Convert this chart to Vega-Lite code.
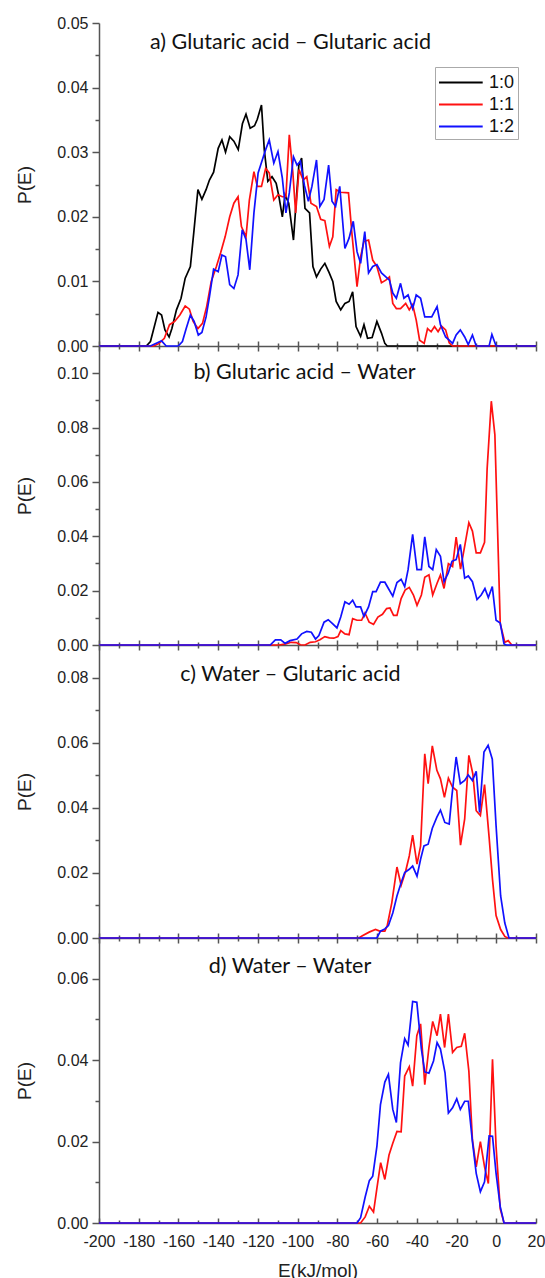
{
  "$schema": "https://vega.github.io/schema/vega-lite/v6.json",
  "background": "white",
  "padding": {"left": 15, "top": 15, "right": 0, "bottom": 0},
  "bounds": "flush",
  "spacing": 0,
  "config": {
    "view": {"stroke": null},
    "font": "Liberation Sans",
    "axis": {"labelFont": "Liberation Sans", "labelFontSize": 16, "labelColor": "#222", "titleFont": "Liberation Sans", "titleFontWeight": "normal", "titleColor": "#222", "domainColor": "#555", "domainWidth": 1.5, "tickColor": "#555", "tickWidth": 1.5, "grid": false, "labelFlush": false, "labelOverlap": false},
    "title": {"font": "Lato", "fontSize": 21.5, "fontWeight": "normal", "color": "#111", "anchor": "middle", "frame": "group", "baseline": "alphabetic"}
  },
  "resolve": {"scale": {"color": "independent"}},
  "datasets": {
    "pe": [
      {"p":"a","r":"1:0","E":-200,"P":0},{"p":"a","r":"1:0","E":-176.2,"P":0},{"p":"a","r":"1:0","E":-174.1,"P":0.0007},{"p":"a","r":"1:0","E":-170.3,"P":0.0052},{"p":"a","r":"1:0","E":-168.5,"P":0.0048},{"p":"a","r":"1:0","E":-166.8,"P":0.0025},{"p":"a","r":"1:0","E":-164.7,"P":0.0014},{"p":"a","r":"1:0","E":-163.3,"P":0.0027},{"p":"a","r":"1:0","E":-161.0,"P":0.0056},{"p":"a","r":"1:0","E":-158.7,"P":0.0074},{"p":"a","r":"1:0","E":-156.6,"P":0.0105},{"p":"a","r":"1:0","E":-154.0,"P":0.0123},{"p":"a","r":"1:0","E":-152.3,"P":0.0175},{"p":"a","r":"1:0","E":-150.2,"P":0.0242},{"p":"a","r":"1:0","E":-148.2,"P":0.0227},{"p":"a","r":"1:0","E":-146.1,"P":0.0242},{"p":"a","r":"1:0","E":-144.4,"P":0.0257},{"p":"a","r":"1:0","E":-142.3,"P":0.0269},{"p":"a","r":"1:0","E":-140.0,"P":0.0306},{"p":"a","r":"1:0","E":-138.1,"P":0.0319},{"p":"a","r":"1:0","E":-136.3,"P":0.0300},{"p":"a","r":"1:0","E":-134.2,"P":0.0324},{"p":"a","r":"1:0","E":-132.1,"P":0.0317},{"p":"a","r":"1:0","E":-129.9,"P":0.0304},{"p":"a","r":"1:0","E":-127.8,"P":0.0344},{"p":"a","r":"1:0","E":-126.0,"P":0.0359},{"p":"a","r":"1:0","E":-123.9,"P":0.0337},{"p":"a","r":"1:0","E":-121.7,"P":0.0341},{"p":"a","r":"1:0","E":-120.3,"P":0.0351},{"p":"a","r":"1:0","E":-118.2,"P":0.0373},{"p":"a","r":"1:0","E":-116.8,"P":0.0304},{"p":"a","r":"1:0","E":-115.0,"P":0.0255},{"p":"a","r":"1:0","E":-112.9,"P":0.0262},{"p":"a","r":"1:0","E":-110.8,"P":0.0252},{"p":"a","r":"1:0","E":-109.4,"P":0.0231},{"p":"a","r":"1:0","E":-107.7,"P":0.0200},{"p":"a","r":"1:0","E":-106.3,"P":0.0234},{"p":"a","r":"1:0","E":-104.5,"P":0.0221},{"p":"a","r":"1:0","E":-102.1,"P":0.0164},{"p":"a","r":"1:0","E":-100.7,"P":0.0226},{"p":"a","r":"1:0","E":-99.4,"P":0.0280},{"p":"a","r":"1:0","E":-98.0,"P":0.0291},{"p":"a","r":"1:0","E":-96.3,"P":0.0213},{"p":"a","r":"1:0","E":-94.0,"P":0.0206},{"p":"a","r":"1:0","E":-92.3,"P":0.0123},{"p":"a","r":"1:0","E":-90.5,"P":0.0107},{"p":"a","r":"1:0","E":-88.4,"P":0.0119},{"p":"a","r":"1:0","E":-86.3,"P":0.0128},{"p":"a","r":"1:0","E":-84.2,"P":0.0114},{"p":"a","r":"1:0","E":-82.3,"P":0.0100},{"p":"a","r":"1:0","E":-80.6,"P":0.0069},{"p":"a","r":"1:0","E":-78.3,"P":0.0056},{"p":"a","r":"1:0","E":-76.2,"P":0.0066},{"p":"a","r":"1:0","E":-74.1,"P":0.0069},{"p":"a","r":"1:0","E":-72.3,"P":0.0084},{"p":"a","r":"1:0","E":-70.6,"P":0.0030},{"p":"a","r":"1:0","E":-68.3,"P":0.0015},{"p":"a","r":"1:0","E":-66.6,"P":0.0033},{"p":"a","r":"1:0","E":-64.8,"P":0.0012},{"p":"a","r":"1:0","E":-62.5,"P":0.0013},{"p":"a","r":"1:0","E":-60.1,"P":0.0038},{"p":"a","r":"1:0","E":-57.8,"P":0.0020},{"p":"a","r":"1:0","E":-56.1,"P":0.0004},{"p":"a","r":"1:0","E":-54.9,"P":0},{"p":"a","r":"1:0","E":20,"P":0},
      {"p":"a","r":"1:1","E":-200,"P":0},{"p":"a","r":"1:1","E":-172.4,"P":0},{"p":"a","r":"1:1","E":-169.7,"P":0.0004},{"p":"a","r":"1:1","E":-167.1,"P":0.0012},{"p":"a","r":"1:1","E":-164.5,"P":0.0033},{"p":"a","r":"1:1","E":-161.9,"P":0.0038},{"p":"a","r":"1:1","E":-159.3,"P":0.0048},{"p":"a","r":"1:1","E":-156.6,"P":0.0062},{"p":"a","r":"1:1","E":-154.5,"P":0.0057},{"p":"a","r":"1:1","E":-152.6,"P":0.0038},{"p":"a","r":"1:1","E":-150.2,"P":0.0027},{"p":"a","r":"1:1","E":-147.9,"P":0.0035},{"p":"a","r":"1:1","E":-145.8,"P":0.0061},{"p":"a","r":"1:1","E":-143.5,"P":0.0100},{"p":"a","r":"1:1","E":-140.9,"P":0.0123},{"p":"a","r":"1:1","E":-138.8,"P":0.0144},{"p":"a","r":"1:1","E":-136.5,"P":0.0169},{"p":"a","r":"1:1","E":-134.2,"P":0.0200},{"p":"a","r":"1:1","E":-132.1,"P":0.0221},{"p":"a","r":"1:1","E":-130.0,"P":0.0231},{"p":"a","r":"1:1","E":-128.3,"P":0.0185},{"p":"a","r":"1:1","E":-126.0,"P":0.0169},{"p":"a","r":"1:1","E":-124.3,"P":0.0226},{"p":"a","r":"1:1","E":-122.0,"P":0.0270},{"p":"a","r":"1:1","E":-120.3,"P":0.0247},{"p":"a","r":"1:1","E":-118.2,"P":0.0247},{"p":"a","r":"1:1","E":-116.1,"P":0.0275},{"p":"a","r":"1:1","E":-114.3,"P":0.0268},{"p":"a","r":"1:1","E":-112.0,"P":0.0226},{"p":"a","r":"1:1","E":-109.9,"P":0.0234},{"p":"a","r":"1:1","E":-107.7,"P":0.0231},{"p":"a","r":"1:1","E":-105.9,"P":0.0231},{"p":"a","r":"1:1","E":-104.2,"P":0.0327},{"p":"a","r":"1:1","E":-102.4,"P":0.0268},{"p":"a","r":"1:1","E":-101.0,"P":0.0206},{"p":"a","r":"1:1","E":-99.3,"P":0.0273},{"p":"a","r":"1:1","E":-97.2,"P":0.0257},{"p":"a","r":"1:1","E":-95.4,"P":0.0262},{"p":"a","r":"1:1","E":-93.3,"P":0.0221},{"p":"a","r":"1:1","E":-90.5,"P":0.0216},{"p":"a","r":"1:1","E":-88.4,"P":0.0196},{"p":"a","r":"1:1","E":-86.3,"P":0.0194},{"p":"a","r":"1:1","E":-84.0,"P":0.0154},{"p":"a","r":"1:1","E":-82.3,"P":0.0169},{"p":"a","r":"1:1","E":-80.6,"P":0.0242},{"p":"a","r":"1:1","E":-78.3,"P":0.0238},{"p":"a","r":"1:1","E":-74.4,"P":0.0237},{"p":"a","r":"1:1","E":-72.7,"P":0.0175},{"p":"a","r":"1:1","E":-70.1,"P":0.0092},{"p":"a","r":"1:1","E":-68.3,"P":0.0138},{"p":"a","r":"1:1","E":-66.6,"P":0.0162},{"p":"a","r":"1:1","E":-64.3,"P":0.0164},{"p":"a","r":"1:1","E":-62.2,"P":0.0133},{"p":"a","r":"1:1","E":-60.1,"P":0.0123},{"p":"a","r":"1:1","E":-57.8,"P":0.0098},{"p":"a","r":"1:1","E":-55.6,"P":0.0102},{"p":"a","r":"1:1","E":-53.8,"P":0.0107},{"p":"a","r":"1:1","E":-52.1,"P":0.0066},{"p":"a","r":"1:1","E":-50.3,"P":0.0058},{"p":"a","r":"1:1","E":-48.2,"P":0.0058},{"p":"a","r":"1:1","E":-45.6,"P":0.0066},{"p":"a","r":"1:1","E":-43.8,"P":0.0056},{"p":"a","r":"1:1","E":-42.1,"P":0.0064},{"p":"a","r":"1:1","E":-40.3,"P":0.0040},{"p":"a","r":"1:1","E":-38.6,"P":0.0009},{"p":"a","r":"1:1","E":-36.3,"P":0.0004},{"p":"a","r":"1:1","E":-34.6,"P":0.0027},{"p":"a","r":"1:1","E":-32.8,"P":0.0022},{"p":"a","r":"1:1","E":-31.1,"P":0.0030},{"p":"a","r":"1:1","E":-29.3,"P":0.0022},{"p":"a","r":"1:1","E":-27.6,"P":0.0031},{"p":"a","r":"1:1","E":-25.5,"P":0.0025},{"p":"a","r":"1:1","E":-23.7,"P":0.0005},{"p":"a","r":"1:1","E":-22.0,"P":0},{"p":"a","r":"1:1","E":20,"P":0},
      {"p":"a","r":"1:2","E":-200,"P":0},{"p":"a","r":"1:2","E":-174.1,"P":0},{"p":"a","r":"1:2","E":-170.6,"P":0.0005},{"p":"a","r":"1:2","E":-168.5,"P":0.0008},{"p":"a","r":"1:2","E":-166.2,"P":0},{"p":"a","r":"1:2","E":-160.1,"P":0},{"p":"a","r":"1:2","E":-158.0,"P":0.0007},{"p":"a","r":"1:2","E":-156.1,"P":0.0027},{"p":"a","r":"1:2","E":-154.0,"P":0.0048},{"p":"a","r":"1:2","E":-152.1,"P":0.0038},{"p":"a","r":"1:2","E":-150.0,"P":0.0017},{"p":"a","r":"1:2","E":-148.2,"P":0.0021},{"p":"a","r":"1:2","E":-146.1,"P":0.0045},{"p":"a","r":"1:2","E":-144.4,"P":0.0076},{"p":"a","r":"1:2","E":-142.3,"P":0.0119},{"p":"a","r":"1:2","E":-140.0,"P":0.0115},{"p":"a","r":"1:2","E":-138.1,"P":0.0141},{"p":"a","r":"1:2","E":-136.3,"P":0.0138},{"p":"a","r":"1:2","E":-134.2,"P":0.0095},{"p":"a","r":"1:2","E":-132.1,"P":0.0089},{"p":"a","r":"1:2","E":-130.0,"P":0.0110},{"p":"a","r":"1:2","E":-127.9,"P":0.0180},{"p":"a","r":"1:2","E":-126.0,"P":0.0165},{"p":"a","r":"1:2","E":-124.1,"P":0.0118},{"p":"a","r":"1:2","E":-122.0,"P":0.0206},{"p":"a","r":"1:2","E":-119.9,"P":0.0268},{"p":"a","r":"1:2","E":-117.8,"P":0.0288},{"p":"a","r":"1:2","E":-116.1,"P":0.0304},{"p":"a","r":"1:2","E":-114.3,"P":0.0319},{"p":"a","r":"1:2","E":-112.0,"P":0.0283},{"p":"a","r":"1:2","E":-109.9,"P":0.0301},{"p":"a","r":"1:2","E":-107.7,"P":0.0260},{"p":"a","r":"1:2","E":-105.9,"P":0.0206},{"p":"a","r":"1:2","E":-104.2,"P":0.0237},{"p":"a","r":"1:2","E":-102.1,"P":0.0293},{"p":"a","r":"1:2","E":-100.3,"P":0.0280},{"p":"a","r":"1:2","E":-98.6,"P":0.0286},{"p":"a","r":"1:2","E":-96.6,"P":0.0249},{"p":"a","r":"1:2","E":-94.6,"P":0.0224},{"p":"a","r":"1:2","E":-92.8,"P":0.0247},{"p":"a","r":"1:2","E":-90.5,"P":0.0288},{"p":"a","r":"1:2","E":-88.8,"P":0.0216},{"p":"a","r":"1:2","E":-86.7,"P":0.0227},{"p":"a","r":"1:2","E":-84.4,"P":0.0280},{"p":"a","r":"1:2","E":-82.7,"P":0.0224},{"p":"a","r":"1:2","E":-80.9,"P":0.0216},{"p":"a","r":"1:2","E":-78.8,"P":0.0247},{"p":"a","r":"1:2","E":-76.2,"P":0.0151},{"p":"a","r":"1:2","E":-74.1,"P":0.0167},{"p":"a","r":"1:2","E":-72.0,"P":0.0193},{"p":"a","r":"1:2","E":-70.1,"P":0.0146},{"p":"a","r":"1:2","E":-68.3,"P":0.0128},{"p":"a","r":"1:2","E":-66.2,"P":0.0177},{"p":"a","r":"1:2","E":-64.3,"P":0.0113},{"p":"a","r":"1:2","E":-62.2,"P":0.0123},{"p":"a","r":"1:2","E":-60.1,"P":0.0126},{"p":"a","r":"1:2","E":-57.8,"P":0.0113},{"p":"a","r":"1:2","E":-55.6,"P":0.0107},{"p":"a","r":"1:2","E":-53.8,"P":0.0102},{"p":"a","r":"1:2","E":-52.1,"P":0.0082},{"p":"a","r":"1:2","E":-50.3,"P":0.0074},{"p":"a","r":"1:2","E":-48.2,"P":0.0097},{"p":"a","r":"1:2","E":-46.5,"P":0.0074},{"p":"a","r":"1:2","E":-44.4,"P":0.0079},{"p":"a","r":"1:2","E":-42.1,"P":0.0058},{"p":"a","r":"1:2","E":-40.3,"P":0.0079},{"p":"a","r":"1:2","E":-38.1,"P":0.0074},{"p":"a","r":"1:2","E":-36.0,"P":0.0045},{"p":"a","r":"1:2","E":-32.5,"P":0.0045},{"p":"a","r":"1:2","E":-29.8,"P":0.0061},{"p":"a","r":"1:2","E":-28.1,"P":0.0033},{"p":"a","r":"1:2","E":-25.5,"P":0.0014},{"p":"a","r":"1:2","E":-23.7,"P":0.0009},{"p":"a","r":"1:2","E":-22.0,"P":0.0004},{"p":"a","r":"1:2","E":-20.2,"P":0.0017},{"p":"a","r":"1:2","E":-18.1,"P":0.0025},{"p":"a","r":"1:2","E":-15.9,"P":0.0014},{"p":"a","r":"1:2","E":-14.1,"P":0.0002},{"p":"a","r":"1:2","E":-12.0,"P":0.0017},{"p":"a","r":"1:2","E":-10.1,"P":0},{"p":"a","r":"1:2","E":-3.6,"P":0},{"p":"a","r":"1:2","E":-2.2,"P":0.0018},{"p":"a","r":"1:2","E":-0.1,"P":0},{"p":"a","r":"1:2","E":20,"P":0},
      {"p":"b","r":"1:1","E":-200,"P":0},{"p":"b","r":"1:1","E":-109.4,"P":0},{"p":"b","r":"1:1","E":-105.9,"P":0.0004},{"p":"b","r":"1:1","E":-103.3,"P":0.0010},{"p":"b","r":"1:1","E":-100.7,"P":0.0009},{"p":"b","r":"1:1","E":-98.6,"P":0.0001},{"p":"b","r":"1:1","E":-96.3,"P":0},{"p":"b","r":"1:1","E":-93.7,"P":0.0010},{"p":"b","r":"1:1","E":-91.0,"P":0.0012},{"p":"b","r":"1:1","E":-88.8,"P":0.0019},{"p":"b","r":"1:1","E":-86.3,"P":0.0031},{"p":"b","r":"1:1","E":-84.0,"P":0.0026},{"p":"b","r":"1:1","E":-81.8,"P":0.0025},{"p":"b","r":"1:1","E":-79.7,"P":0.0031},{"p":"b","r":"1:1","E":-78.3,"P":0.0053},{"p":"b","r":"1:1","E":-76.2,"P":0.0041},{"p":"b","r":"1:1","E":-74.1,"P":0.0038},{"p":"b","r":"1:1","E":-72.3,"P":0.0097},{"p":"b","r":"1:1","E":-70.1,"P":0.0091},{"p":"b","r":"1:1","E":-67.8,"P":0.0091},{"p":"b","r":"1:1","E":-66.1,"P":0.0118},{"p":"b","r":"1:1","E":-64.0,"P":0.0084},{"p":"b","r":"1:1","E":-61.8,"P":0.0076},{"p":"b","r":"1:1","E":-59.6,"P":0.0103},{"p":"b","r":"1:1","E":-57.3,"P":0.0113},{"p":"b","r":"1:1","E":-55.2,"P":0.0134},{"p":"b","r":"1:1","E":-53.5,"P":0.0136},{"p":"b","r":"1:1","E":-51.7,"P":0.0109},{"p":"b","r":"1:1","E":-50.0,"P":0.0109},{"p":"b","r":"1:1","E":-47.9,"P":0.0171},{"p":"b","r":"1:1","E":-45.9,"P":0.0202},{"p":"b","r":"1:1","E":-43.8,"P":0.0212},{"p":"b","r":"1:1","E":-41.7,"P":0.0184},{"p":"b","r":"1:1","E":-39.9,"P":0.0146},{"p":"b","r":"1:1","E":-37.7,"P":0.0184},{"p":"b","r":"1:1","E":-36.0,"P":0.0249},{"p":"b","r":"1:1","E":-33.9,"P":0.0258},{"p":"b","r":"1:1","E":-32.0,"P":0.0184},{"p":"b","r":"1:1","E":-29.8,"P":0.0227},{"p":"b","r":"1:1","E":-28.1,"P":0.0258},{"p":"b","r":"1:1","E":-26.3,"P":0.0208},{"p":"b","r":"1:1","E":-24.1,"P":0.0299},{"p":"b","r":"1:1","E":-22.0,"P":0.0289},{"p":"b","r":"1:1","E":-20.2,"P":0.0397},{"p":"b","r":"1:1","E":-18.0,"P":0.0279},{"p":"b","r":"1:1","E":-15.9,"P":0.0364},{"p":"b","r":"1:1","E":-13.8,"P":0.0450},{"p":"b","r":"1:1","E":-12.0,"P":0.0419},{"p":"b","r":"1:1","E":-10.1,"P":0.0339},{"p":"b","r":"1:1","E":-8.0,"P":0.0339},{"p":"b","r":"1:1","E":-5.9,"P":0.0378},{"p":"b","r":"1:1","E":-4.6,"P":0.0649},{"p":"b","r":"1:1","E":-2.5,"P":0.0897},{"p":"b","r":"1:1","E":-0.7,"P":0.0773},{"p":"b","r":"1:1","E":2.0,"P":0.0078},{"p":"b","r":"1:1","E":4.3,"P":0.0010},{"p":"b","r":"1:1","E":6.0,"P":0.0016},{"p":"b","r":"1:1","E":7.8,"P":0},{"p":"b","r":"1:1","E":20,"P":0},
      {"p":"b","r":"1:2","E":-200,"P":0},{"p":"b","r":"1:2","E":-113.8,"P":0},{"p":"b","r":"1:2","E":-111.2,"P":0.0019},{"p":"b","r":"1:2","E":-108.5,"P":0.0019},{"p":"b","r":"1:2","E":-106.3,"P":0.0006},{"p":"b","r":"1:2","E":-103.8,"P":0.0016},{"p":"b","r":"1:2","E":-100.3,"P":0.0022},{"p":"b","r":"1:2","E":-98.0,"P":0.0041},{"p":"b","r":"1:2","E":-95.4,"P":0.0050},{"p":"b","r":"1:2","E":-93.1,"P":0.0047},{"p":"b","r":"1:2","E":-91.0,"P":0.0022},{"p":"b","r":"1:2","E":-89.3,"P":0.0035},{"p":"b","r":"1:2","E":-86.7,"P":0.0084},{"p":"b","r":"1:2","E":-84.6,"P":0.0093},{"p":"b","r":"1:2","E":-82.3,"P":0.0078},{"p":"b","r":"1:2","E":-80.2,"P":0.0063},{"p":"b","r":"1:2","E":-78.3,"P":0.0103},{"p":"b","r":"1:2","E":-76.2,"P":0.0159},{"p":"b","r":"1:2","E":-74.1,"P":0.0150},{"p":"b","r":"1:2","E":-72.3,"P":0.0165},{"p":"b","r":"1:2","E":-70.6,"P":0.0140},{"p":"b","r":"1:2","E":-68.3,"P":0.0140},{"p":"b","r":"1:2","E":-66.6,"P":0.0105},{"p":"b","r":"1:2","E":-64.3,"P":0.0140},{"p":"b","r":"1:2","E":-62.2,"P":0.0196},{"p":"b","r":"1:2","E":-60.5,"P":0.0196},{"p":"b","r":"1:2","E":-58.3,"P":0.0231},{"p":"b","r":"1:2","E":-56.1,"P":0.0231},{"p":"b","r":"1:2","E":-54.3,"P":0.0208},{"p":"b","r":"1:2","E":-52.1,"P":0.0180},{"p":"b","r":"1:2","E":-50.0,"P":0.0230},{"p":"b","r":"1:2","E":-47.9,"P":0.0242},{"p":"b","r":"1:2","E":-46.1,"P":0.0215},{"p":"b","r":"1:2","E":-44.4,"P":0.0277},{"p":"b","r":"1:2","E":-42.1,"P":0.0407},{"p":"b","r":"1:2","E":-39.9,"P":0.0277},{"p":"b","r":"1:2","E":-37.7,"P":0.0277},{"p":"b","r":"1:2","E":-36.0,"P":0.0398},{"p":"b","r":"1:2","E":-33.9,"P":0.0289},{"p":"b","r":"1:2","E":-32.0,"P":0.0277},{"p":"b","r":"1:2","E":-30.2,"P":0.0351},{"p":"b","r":"1:2","E":-28.1,"P":0.0326},{"p":"b","r":"1:2","E":-26.3,"P":0.0233},{"p":"b","r":"1:2","E":-24.2,"P":0.0264},{"p":"b","r":"1:2","E":-22.3,"P":0.0308},{"p":"b","r":"1:2","E":-20.2,"P":0.0314},{"p":"b","r":"1:2","E":-18.1,"P":0.0370},{"p":"b","r":"1:2","E":-15.9,"P":0.0246},{"p":"b","r":"1:2","E":-14.1,"P":0.0254},{"p":"b","r":"1:2","E":-12.0,"P":0.0233},{"p":"b","r":"1:2","E":-9.7,"P":0.0167},{"p":"b","r":"1:2","E":-7.6,"P":0.0184},{"p":"b","r":"1:2","E":-5.7,"P":0.0208},{"p":"b","r":"1:2","E":-4.0,"P":0.0175},{"p":"b","r":"1:2","E":-2.0,"P":0.0215},{"p":"b","r":"1:2","E":-0.1,"P":0.0091},{"p":"b","r":"1:2","E":2.0,"P":0.0081},{"p":"b","r":"1:2","E":3.9,"P":0.0004},{"p":"b","r":"1:2","E":5.1,"P":0},{"p":"b","r":"1:2","E":20,"P":0},
      {"p":"c","r":"1:1","E":-200,"P":0},{"p":"c","r":"1:1","E":-69.2,"P":0},{"p":"c","r":"1:1","E":-67.4,"P":0.0007},{"p":"c","r":"1:1","E":-64.0,"P":0.0018},{"p":"c","r":"1:1","E":-60.8,"P":0.0026},{"p":"c","r":"1:1","E":-58.7,"P":0.0021},{"p":"c","r":"1:1","E":-56.1,"P":0.0021},{"p":"c","r":"1:1","E":-54.9,"P":0.0038},{"p":"c","r":"1:1","E":-52.6,"P":0.0108},{"p":"c","r":"1:1","E":-50.0,"P":0.0218},{"p":"c","r":"1:1","E":-47.9,"P":0.0162},{"p":"c","r":"1:1","E":-45.6,"P":0.0206},{"p":"c","r":"1:1","E":-43.8,"P":0.0252},{"p":"c","r":"1:1","E":-42.1,"P":0.0316},{"p":"c","r":"1:1","E":-39.9,"P":0.0227},{"p":"c","r":"1:1","E":-38.1,"P":0.0283},{"p":"c","r":"1:1","E":-36.0,"P":0.0566},{"p":"c","r":"1:1","E":-34.3,"P":0.0474},{"p":"c","r":"1:1","E":-32.2,"P":0.0590},{"p":"c","r":"1:1","E":-29.9,"P":0.0515},{"p":"c","r":"1:1","E":-28.1,"P":0.0489},{"p":"c","r":"1:1","E":-26.1,"P":0.0432},{"p":"c","r":"1:1","E":-24.1,"P":0.0491},{"p":"c","r":"1:1","E":-22.0,"P":0.0463},{"p":"c","r":"1:1","E":-19.9,"P":0.0453},{"p":"c","r":"1:1","E":-18.0,"P":0.0285},{"p":"c","r":"1:1","E":-15.9,"P":0.0366},{"p":"c","r":"1:1","E":-13.8,"P":0.0561},{"p":"c","r":"1:1","E":-11.8,"P":0.0504},{"p":"c","r":"1:1","E":-10.1,"P":0.0391},{"p":"c","r":"1:1","E":-8.0,"P":0.0376},{"p":"c","r":"1:1","E":-5.9,"P":0.0471},{"p":"c","r":"1:1","E":-3.6,"P":0.0309},{"p":"c","r":"1:1","E":-1.9,"P":0.0180},{"p":"c","r":"1:1","E":-0.1,"P":0.0069},{"p":"c","r":"1:1","E":2.2,"P":0.0026},{"p":"c","r":"1:1","E":4.3,"P":0.0005},{"p":"c","r":"1:1","E":5.7,"P":0},{"p":"c","r":"1:1","E":20,"P":0},
      {"p":"c","r":"1:2","E":-200,"P":0},{"p":"c","r":"1:2","E":-60.1,"P":0},{"p":"c","r":"1:2","E":-58.3,"P":0.0021},{"p":"c","r":"1:2","E":-56.1,"P":0.0028},{"p":"c","r":"1:2","E":-54.3,"P":0.0038},{"p":"c","r":"1:2","E":-52.1,"P":0.0077},{"p":"c","r":"1:2","E":-50.0,"P":0.0129},{"p":"c","r":"1:2","E":-47.9,"P":0.0170},{"p":"c","r":"1:2","E":-46.1,"P":0.0201},{"p":"c","r":"1:2","E":-43.8,"P":0.0211},{"p":"c","r":"1:2","E":-42.1,"P":0.0221},{"p":"c","r":"1:2","E":-39.9,"P":0.0190},{"p":"c","r":"1:2","E":-38.1,"P":0.0242},{"p":"c","r":"1:2","E":-36.4,"P":0.0283},{"p":"c","r":"1:2","E":-34.3,"P":0.0288},{"p":"c","r":"1:2","E":-32.2,"P":0.0337},{"p":"c","r":"1:2","E":-29.9,"P":0.0371},{"p":"c","r":"1:2","E":-28.1,"P":0.0393},{"p":"c","r":"1:2","E":-25.9,"P":0.0355},{"p":"c","r":"1:2","E":-23.7,"P":0.0350},{"p":"c","r":"1:2","E":-22.3,"P":0.0438},{"p":"c","r":"1:2","E":-20.2,"P":0.0556},{"p":"c","r":"1:2","E":-18.1,"P":0.0474},{"p":"c","r":"1:2","E":-15.9,"P":0.0484},{"p":"c","r":"1:2","E":-14.1,"P":0.0501},{"p":"c","r":"1:2","E":-12.0,"P":0.0484},{"p":"c","r":"1:2","E":-10.1,"P":0.0512},{"p":"c","r":"1:2","E":-8.4,"P":0.0386},{"p":"c","r":"1:2","E":-6.2,"P":0.0571},{"p":"c","r":"1:2","E":-4.1,"P":0.0592},{"p":"c","r":"1:2","E":-2.0,"P":0.0549},{"p":"c","r":"1:2","E":-0.1,"P":0.0345},{"p":"c","r":"1:2","E":2.2,"P":0.0129},{"p":"c","r":"1:2","E":4.3,"P":0.0046},{"p":"c","r":"1:2","E":6.4,"P":0},{"p":"c","r":"1:2","E":20,"P":0},
      {"p":"d","r":"1:1","E":-200,"P":0},{"p":"d","r":"1:1","E":-68.3,"P":0},{"p":"d","r":"1:1","E":-66.0,"P":0.0015},{"p":"d","r":"1:1","E":-63.9,"P":0.0041},{"p":"d","r":"1:1","E":-61.8,"P":0.0027},{"p":"d","r":"1:1","E":-60.1,"P":0.0085},{"p":"d","r":"1:1","E":-58.2,"P":0.0148},{"p":"d","r":"1:1","E":-56.1,"P":0.0107},{"p":"d","r":"1:1","E":-54.0,"P":0.0167},{"p":"d","r":"1:1","E":-52.1,"P":0.0196},{"p":"d","r":"1:1","E":-50.0,"P":0.0225},{"p":"d","r":"1:1","E":-47.9,"P":0.0224},{"p":"d","r":"1:1","E":-46.1,"P":0.0361},{"p":"d","r":"1:1","E":-43.8,"P":0.0384},{"p":"d","r":"1:1","E":-42.1,"P":0.0336},{"p":"d","r":"1:1","E":-40.0,"P":0.0460},{"p":"d","r":"1:1","E":-38.1,"P":0.0489},{"p":"d","r":"1:1","E":-36.0,"P":0.0340},{"p":"d","r":"1:1","E":-33.9,"P":0.0431},{"p":"d","r":"1:1","E":-32.0,"P":0.0495},{"p":"d","r":"1:1","E":-29.8,"P":0.0460},{"p":"d","r":"1:1","E":-28.1,"P":0.0513},{"p":"d","r":"1:1","E":-26.0,"P":0.0431},{"p":"d","r":"1:1","E":-24.1,"P":0.0513},{"p":"d","r":"1:1","E":-22.0,"P":0.0419},{"p":"d","r":"1:1","E":-19.9,"P":0.0431},{"p":"d","r":"1:1","E":-17.6,"P":0.0434},{"p":"d","r":"1:1","E":-15.9,"P":0.0466},{"p":"d","r":"1:1","E":-13.8,"P":0.0373},{"p":"d","r":"1:1","E":-12.0,"P":0.0204},{"p":"d","r":"1:1","E":-10.1,"P":0.0138},{"p":"d","r":"1:1","E":-8.0,"P":0.0200},{"p":"d","r":"1:1","E":-5.9,"P":0.0138},{"p":"d","r":"1:1","E":-4.0,"P":0.0097},{"p":"d","r":"1:1","E":-1.9,"P":0.0402},{"p":"d","r":"1:1","E":-0.1,"P":0.0188},{"p":"d","r":"1:1","E":2.0,"P":0.0035},{"p":"d","r":"1:1","E":3.9,"P":0},{"p":"d","r":"1:1","E":20,"P":0},
      {"p":"d","r":"1:2","E":-200,"P":0},{"p":"d","r":"1:2","E":-70.1,"P":0},{"p":"d","r":"1:2","E":-68.3,"P":0.0013},{"p":"d","r":"1:2","E":-66.0,"P":0.0064},{"p":"d","r":"1:2","E":-63.9,"P":0.0104},{"p":"d","r":"1:2","E":-62.2,"P":0.0115},{"p":"d","r":"1:2","E":-60.1,"P":0.0188},{"p":"d","r":"1:2","E":-58.3,"P":0.0291},{"p":"d","r":"1:2","E":-56.1,"P":0.0346},{"p":"d","r":"1:2","E":-54.3,"P":0.0365},{"p":"d","r":"1:2","E":-52.1,"P":0.0279},{"p":"d","r":"1:2","E":-50.3,"P":0.0247},{"p":"d","r":"1:2","E":-48.2,"P":0.0394},{"p":"d","r":"1:2","E":-46.1,"P":0.0453},{"p":"d","r":"1:2","E":-44.4,"P":0.0437},{"p":"d","r":"1:2","E":-42.1,"P":0.0544},{"p":"d","r":"1:2","E":-40.0,"P":0.0542},{"p":"d","r":"1:2","E":-37.7,"P":0.0427},{"p":"d","r":"1:2","E":-36.0,"P":0.0371},{"p":"d","r":"1:2","E":-33.9,"P":0.0368},{"p":"d","r":"1:2","E":-31.6,"P":0.0398},{"p":"d","r":"1:2","E":-29.8,"P":0.0443},{"p":"d","r":"1:2","E":-28.1,"P":0.0427},{"p":"d","r":"1:2","E":-25.8,"P":0.0369},{"p":"d","r":"1:2","E":-24.1,"P":0.0270},{"p":"d","r":"1:2","E":-22.0,"P":0.0283},{"p":"d","r":"1:2","E":-19.9,"P":0.0305},{"p":"d","r":"1:2","E":-18.1,"P":0.0279},{"p":"d","r":"1:2","E":-15.9,"P":0.0299},{"p":"d","r":"1:2","E":-14.1,"P":0.0299},{"p":"d","r":"1:2","E":-12.0,"P":0.0200},{"p":"d","r":"1:2","E":-10.1,"P":0.0122},{"p":"d","r":"1:2","E":-8.0,"P":0.0077},{"p":"d","r":"1:2","E":-5.9,"P":0.0101},{"p":"d","r":"1:2","E":-3.6,"P":0.0214},{"p":"d","r":"1:2","E":-1.9,"P":0.0213},{"p":"d","r":"1:2","E":-0.1,"P":0.0122},{"p":"d","r":"1:2","E":2.0,"P":0.0040},{"p":"d","r":"1:2","E":3.9,"P":0},{"p":"d","r":"1:2","E":20,"P":0}
    ]
  },
  "vconcat": [
    {
      "width": 437, "height": 323,
      "title": {"text": "a) Glutaric acid – Glutaric acid", "offset": -38, "dx": -27},
      "data": {"name": "pe"},
      "transform": [{"filter": "datum.p === 'a'"}],
      "layer": [
        {"mark": {"type": "line", "strokeWidth": 1.7},
         "encoding": {
           "x": {"field": "E", "type": "quantitative", "scale": {"domain": [-200, 20], "nice": false, "zero": false},
                 "axis": {"orient": "bottom", "values": [-200,-180,-160,-140,-120,-100,-80,-60,-40,-20,0,20], "tickSize": -5, "labels": false, "title": null}},
           "y": {"field": "P", "type": "quantitative", "scale": {"domain": [0, 0.05], "nice": false},
                 "axis": {"orient": "left", "values": [0,0.01,0.02,0.03,0.04,0.05], "format": ".2f", "tickSize": 7, "labelPadding": 4, "title": "P(E)", "titleFontSize": 19, "titlePadding": 22}},
           "color": {"field": "r", "type": "nominal", "scale": {"domain": ["1:0","1:1","1:2"], "range": ["#000000","#ff1111","#1111ff"]},
                     "legend": {"orient": "none", "legendX": 336, "legendY": 44, "title": null, "symbolType": "M-1,0H2.8", "symbolSize": 529, "symbolStrokeWidth": 2, "labelFontSize": 18, "labelFont": "Liberation Sans", "labelColor": "#111", "labelOffset": 26, "rowPadding": 0, "padding": 3, "strokeColor": "#aaa", "fillColor": "white"}}
         }},
        {"mark": {"type": "point", "opacity": 0, "size": 1},
         "encoding": {
           "x": {"field": "E", "type": "quantitative", "scale": {"domain": [-200, 20], "nice": false, "zero": false},
                 "axis": {"orient": "bottom", "values": [-190,-170,-150,-130,-110,-90,-70,-50,-30,-10,10], "tickSize": -3, "labels": false, "domain": false, "title": null}},
           "y": {"field": "P", "type": "quantitative", "scale": {"domain": [0, 0.05], "nice": false},
                 "axis": {"orient": "left", "values": [0.005,0.015,0.025,0.035,0.045], "tickSize": 4, "labels": false, "domain": false, "title": null}}
         }}
      ],
      "resolve": {"axis": {"x": "independent", "y": "independent"}}
    },
    {
      "width": 437, "height": 299,
      "title": {"text": "b) Glutaric acid – Water", "offset": -38, "dx": -13},
      "data": {"name": "pe"},
      "transform": [{"filter": "datum.p === 'b'"}],
      "layer": [
        {"mark": {"type": "line", "strokeWidth": 1.7},
         "encoding": {
           "x": {"field": "E", "type": "quantitative", "scale": {"domain": [-200, 20], "nice": false, "zero": false},
                 "axis": {"orient": "bottom", "values": [-200,-180,-160,-140,-120,-100,-80,-60,-40,-20,0,20], "tickSize": -5, "labels": false, "title": null}},
           "y": {"field": "P", "type": "quantitative", "scale": {"domain": [0, 0.11], "nice": false},
                 "axis": {"orient": "left", "values": [0,0.02,0.04,0.06,0.08,0.1], "format": ".2f", "tickSize": 7, "labelPadding": 4, "title": "P(E)", "titleFontSize": 19, "titlePadding": 22}},
           "color": {"field": "r", "type": "nominal", "scale": {"domain": ["1:0","1:1","1:2"], "range": ["#000000","#ff1111","#1111ff"]}, "legend": null}
         }},
        {"mark": {"type": "point", "opacity": 0, "size": 1},
         "encoding": {
           "x": {"field": "E", "type": "quantitative", "scale": {"domain": [-200, 20], "nice": false, "zero": false},
                 "axis": {"orient": "bottom", "values": [-190,-170,-150,-130,-110,-90,-70,-50,-30,-10,10], "tickSize": -3, "labels": false, "domain": false, "title": null}},
           "y": {"field": "P", "type": "quantitative", "scale": {"domain": [0, 0.11], "nice": false},
                 "axis": {"orient": "left", "values": [0.01,0.03,0.05,0.07,0.09], "tickSize": 4, "labels": false, "domain": false, "title": null}}
         }},
        {"mark": {"type": "point", "opacity": 0, "size": 1},
         "encoding": {
           "x": {"field": "E", "type": "quantitative", "scale": {"domain": [-200, 20], "nice": false, "zero": false},
                 "axis": {"orient": "top", "values": [-200,-180,-160,-140,-120,-100,-80,-60,-40,-20,0,20], "tickSize": -5, "labels": false, "domain": false, "title": null}},
           "y": {"field": "P", "type": "quantitative", "scale": {"domain": [0, 0.11], "nice": false}, "axis": null}
         }},
        {"mark": {"type": "point", "opacity": 0, "size": 1},
         "encoding": {
           "x": {"field": "E", "type": "quantitative", "scale": {"domain": [-200, 20], "nice": false, "zero": false},
                 "axis": {"orient": "top", "values": [-190,-170,-150,-130,-110,-90,-70,-50,-30,-10,10], "tickSize": -3, "labels": false, "domain": false, "title": null}},
           "y": {"field": "P", "type": "quantitative", "scale": {"domain": [0, 0.11], "nice": false}, "axis": null}
         }}
      ],
      "resolve": {"axis": {"x": "independent", "y": "independent"}}
    },
    {
      "width": 437, "height": 293,
      "title": {"text": "c) Water – Glutaric acid", "offset": -41, "dx": -27},
      "data": {"name": "pe"},
      "transform": [{"filter": "datum.p === 'c'"}],
      "layer": [
        {"mark": {"type": "line", "strokeWidth": 1.7},
         "encoding": {
           "x": {"field": "E", "type": "quantitative", "scale": {"domain": [-200, 20], "nice": false, "zero": false},
                 "axis": {"orient": "bottom", "values": [-200,-180,-160,-140,-120,-100,-80,-60,-40,-20,0,20], "tickSize": -5, "labels": false, "title": null}},
           "y": {"field": "P", "type": "quantitative", "scale": {"domain": [0, 0.09], "nice": false},
                 "axis": {"orient": "left", "values": [0,0.02,0.04,0.06,0.08], "format": ".2f", "tickSize": 7, "labelPadding": 4, "title": "P(E)", "titleFontSize": 19, "titlePadding": 22}},
           "color": {"field": "r", "type": "nominal", "scale": {"domain": ["1:0","1:1","1:2"], "range": ["#000000","#ff1111","#1111ff"]}, "legend": null}
         }},
        {"mark": {"type": "point", "opacity": 0, "size": 1},
         "encoding": {
           "x": {"field": "E", "type": "quantitative", "scale": {"domain": [-200, 20], "nice": false, "zero": false},
                 "axis": {"orient": "bottom", "values": [-190,-170,-150,-130,-110,-90,-70,-50,-30,-10,10], "tickSize": -3, "labels": false, "domain": false, "title": null}},
           "y": {"field": "P", "type": "quantitative", "scale": {"domain": [0, 0.09], "nice": false},
                 "axis": {"orient": "left", "values": [0.01,0.03,0.05,0.07], "tickSize": 4, "labels": false, "domain": false, "title": null}}
         }},
        {"mark": {"type": "point", "opacity": 0, "size": 1},
         "encoding": {
           "x": {"field": "E", "type": "quantitative", "scale": {"domain": [-200, 20], "nice": false, "zero": false},
                 "axis": {"orient": "top", "values": [-200,-180,-160,-140,-120,-100,-80,-60,-40,-20,0,20], "tickSize": -5, "labels": false, "domain": false, "title": null}},
           "y": {"field": "P", "type": "quantitative", "scale": {"domain": [0, 0.09], "nice": false}, "axis": null}
         }},
        {"mark": {"type": "point", "opacity": 0, "size": 1},
         "encoding": {
           "x": {"field": "E", "type": "quantitative", "scale": {"domain": [-200, 20], "nice": false, "zero": false},
                 "axis": {"orient": "top", "values": [-190,-170,-150,-130,-110,-90,-70,-50,-30,-10,10], "tickSize": -3, "labels": false, "domain": false, "title": null}},
           "y": {"field": "P", "type": "quantitative", "scale": {"domain": [0, 0.09], "nice": false}, "axis": null}
         }}
      ],
      "resolve": {"axis": {"x": "independent", "y": "independent"}}
    },
    {
      "width": 437, "height": 285,
      "title": {"text": "d) Water – Water", "offset": -40, "dx": -27.5},
      "data": {"name": "pe"},
      "transform": [{"filter": "datum.p === 'd'"}],
      "layer": [
        {"mark": {"type": "line", "strokeWidth": 1.7},
         "encoding": {
           "x": {"field": "E", "type": "quantitative", "scale": {"domain": [-200, 20], "nice": false, "zero": false},
                 "axis": {"orient": "bottom", "values": [-200,-180,-160,-140,-120,-100,-80,-60,-40,-20,0,20], "labelExpr": "'' + datum.value", "tickSize": -5, "labels": true, "labelPadding": 15, "title": "E(kJ/mol)", "titleFontSize": 19, "titlePadding": 12}},
           "y": {"field": "P", "type": "quantitative", "scale": {"domain": [0, 0.07], "nice": false},
                 "axis": {"orient": "left", "values": [0,0.02,0.04,0.06], "format": ".2f", "tickSize": 7, "labelPadding": 4, "title": "P(E)", "titleFontSize": 19, "titlePadding": 22}},
           "color": {"field": "r", "type": "nominal", "scale": {"domain": ["1:0","1:1","1:2"], "range": ["#000000","#ff1111","#1111ff"]}, "legend": null}
         }},
        {"mark": {"type": "point", "opacity": 0, "size": 1},
         "encoding": {
           "x": {"field": "E", "type": "quantitative", "scale": {"domain": [-200, 20], "nice": false, "zero": false},
                 "axis": {"orient": "bottom", "values": [-190,-170,-150,-130,-110,-90,-70,-50,-30,-10,10], "tickSize": -3, "labels": false, "domain": false, "title": null}},
           "y": {"field": "P", "type": "quantitative", "scale": {"domain": [0, 0.07], "nice": false},
                 "axis": {"orient": "left", "values": [0.01,0.03,0.05], "tickSize": 4, "labels": false, "domain": false, "title": null}}
         }},
        {"mark": {"type": "point", "opacity": 0, "size": 1},
         "encoding": {
           "x": {"field": "E", "type": "quantitative", "scale": {"domain": [-200, 20], "nice": false, "zero": false},
                 "axis": {"orient": "top", "values": [-200,-180,-160,-140,-120,-100,-80,-60,-40,-20,0,20], "tickSize": -5, "labels": false, "domain": false, "title": null}},
           "y": {"field": "P", "type": "quantitative", "scale": {"domain": [0, 0.07], "nice": false}, "axis": null}
         }},
        {"mark": {"type": "point", "opacity": 0, "size": 1},
         "encoding": {
           "x": {"field": "E", "type": "quantitative", "scale": {"domain": [-200, 20], "nice": false, "zero": false},
                 "axis": {"orient": "top", "values": [-190,-170,-150,-130,-110,-90,-70,-50,-30,-10,10], "tickSize": -3, "labels": false, "domain": false, "title": null}},
           "y": {"field": "P", "type": "quantitative", "scale": {"domain": [0, 0.07], "nice": false}, "axis": null}
         }}
      ],
      "resolve": {"axis": {"x": "independent", "y": "independent"}}
    }
  ]
}
